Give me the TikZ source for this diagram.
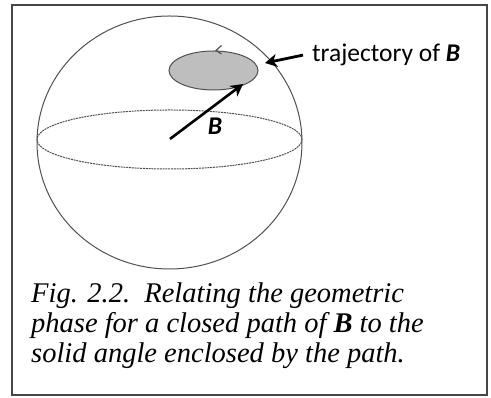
\documentclass[tikz,border=0pt]{standalone}
\usepackage{fontspec}
\setmainfont{Liberation Serif}
\newfontfamily\labelfont{Carlito}
\definecolor{frame1}{RGB}{70, 70, 70}
\definecolor{sphere1}{RGB}{80, 80, 80}
\definecolor{traj1}{RGB}{190, 190, 190}
\usetikzlibrary{shapes, arrows.meta, positioning, calc}

\tikzset{
  sphereline/.style={draw=sphere1, line width=1pt},
  vecarrow/.style={line width=2.6pt, -{Stealth[length=12pt, width=13pt, inset=3.5pt]}},
  labeltext/.style={font=\labelfont\fontsize{25.5}{30}\selectfont, inner sep=1pt},
}

\begin{document}
\begin{tikzpicture}[x=1pt, y=1pt]
  \useasboundingbox (0,0) rectangle (491,398);
  \draw[draw=frame1, line width=1.4pt] (12,3) rectangle (487,393);

  % sphere and its equator
  \draw[sphereline] (169.5,255.5) ellipse (132.5 and 126.5);
  \draw[sphereline, dashed, dash pattern=on 2pt off 0.8pt] (169.5,258.5) ellipse (132.5 and 29.5);

  % closed path of B
  \node[ellipse, sphereline, fill=traj1, minimum width=89pt, minimum height=39pt, inner sep=0pt] (traj) at (213.5,327.5) {};
  \draw[sphereline, line width=1.2pt] ([shift={(8pt,5pt)}]traj.north) -- ([xshift=2.5pt]traj.north) -- ([shift={(8pt,-3.5pt)}]traj.north);

  \coordinate (O) at (170,259);
  \coordinate (Btip) at (243,314);
  \coordinate (trajtip) at (265,335);
  \draw[vecarrow] (O) -- (Btip);
  \node[labeltext] (Blabel) at (215,272) {\bfseries\itshape B};

  \node[labeltext, anchor=base west] (trajlabel) at (311,336.3) {trajectory of \textbf{\textit{B}}};
  \draw[vecarrow, line width=2.8pt] ([xshift=-8pt]trajlabel.west) -- (trajtip);

  \node[anchor=base west, align=left, inner sep=0pt, font=\itshape\fontsize{28.5}{30}\selectfont] (caption) at (31,35) {
    Fig. 2.2.\ \ Relating the geometric\\
    phase for a closed path of \textbf{B} to the\\
    solid angle enclosed by the path.
  };
\end{tikzpicture}
\end{document}
